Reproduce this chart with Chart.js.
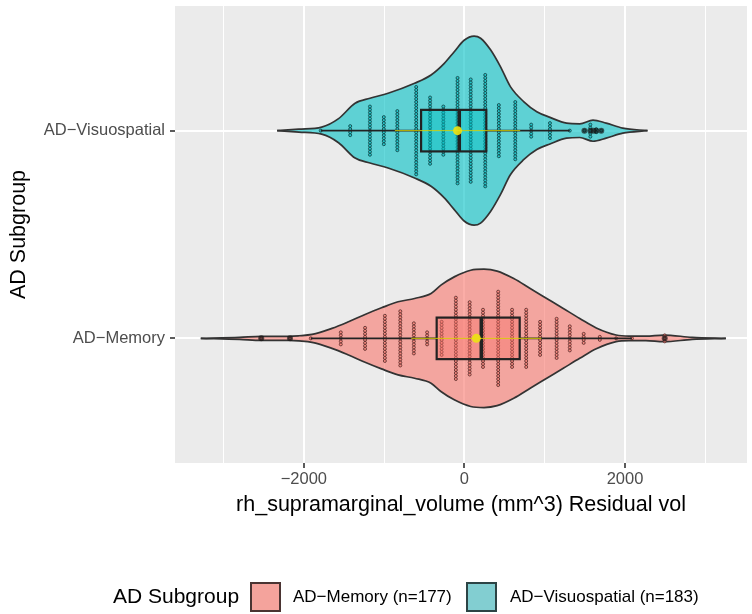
<!DOCTYPE html>
<html>
<head>
<meta charset="utf-8">
<script src="https://cdn.jsdelivr.net/npm/chart.js@4/dist/chart.umd.min.js"></script>
<style>
  html, body { margin: 0; padding: 0; background: #ffffff; }
  canvas { display: block; }
</style>
</head>
<body>
<canvas id="c" width="752" height="614"></canvas>
<script>
// ---- labels -------------------------------------------------------------
const groupLabels = ['AD−Memory', 'AD−Visuospatial'];
const groupCounts = [177, 183];
const legendTitle = 'AD Subgroup';
const xAxisTitle = 'rh_supramarginal_volume (mm^3) Residual vol';
const yAxisTitle = 'AD Subgroup';
const xGridValues = [-3000, -2000, -1000, 0, 1000, 2000, 3000];
const xLabelValues = [-2000, 0, 2000];

// ---- violin outlines: residual value and half-width (in group units) ----
const memViolinX = [-3284, -2802, -2531, -2185, -2062, -1898, -1651, -1444, -1238, -1033, -827, -621, -416, -293, -127, 78, 243, 407, 614, 819, 1025, 1231, 1436, 1642, 1889, 2049, 2259, 2481, 2836, 3256];
const memViolinW = [0, 0.005, 0.01, 0.01, 0.0125, 0.019, 0.048, 0.08, 0.115, 0.147, 0.176, 0.192, 0.216, 0.256, 0.296, 0.328, 0.333, 0.324, 0.288, 0.24, 0.192, 0.144, 0.096, 0.05, 0.016, 0.011, 0.011, 0.016, 0.005, 0];
const visViolinX = [-2333, -2062, -1778, -1568, -1362, -1177, -951, -621, -416, -251, -127, -4, 120, 201, 325, 448, 572, 737, 901, 1065, 1272, 1436, 1601, 1765, 1972, 2280];
const visViolinW = [0, 0.007, 0.017, 0.058, 0.132, 0.156, 0.18, 0.228, 0.268, 0.324, 0.38, 0.435, 0.455, 0.445, 0.389, 0.308, 0.212, 0.14, 0.091, 0.064, 0.036, 0.033, 0.051, 0.036, 0.012, 0];

// ---- dot stacks: bin centre and number of dots ---------------------------
const memDotBins = [-2531, -2173, -1914, -1540, -1238, -991, -799, -630, -465, -284, -107, 65, 231, 420, 593, 769, 942, 1148, 1312, 1485, 1686, 1889, 2086, 2494];
const memDotCounts = [1, 1, 1, 5, 8, 16, 19, 11, 5, 12, 28, 25, 20, 32, 20, 20, 12, 14, 9, 4, 2, 1, 1, 3];
const visDotBins = [-1790, -1423, -1177, -1004, -836, -601, -428, -263, -86, 78, 259, 428, 633, 831, 1065, 1312, 1494, 1568, 1642, 1704];
const visDotCounts = [1, 4, 17, 10, 14, 30, 23, 17, 36, 35, 38, 18, 20, 5, 6, 1, 1, 5, 2, 1];

// ---- box plot summaries (Memory, Visuospatial) ---------------------------
const boxQ1 = [-346, -540];
const boxMedian = [210, -65];
const boxQ3 = [688, 272];
const whiskerLow = [-1914, -1790];
const whiskerHigh = [2086, 1312];
const memOutliers = [-2531, -2173, 2494];
const visOutliers = [1494, 1568, 1610, 1642, 1704];

// ---- mean and standard deviation -----------------------------------------
const meanValues = [148, -86];
const sdValues = [810, 780];

// ---- styling -------------------------------------------------------------
const FONT = '"Liberation Sans", Arial, Helvetica, sans-serif';
const fillColors = ['rgba(248,118,109,0.6)', 'rgba(0,191,196,0.6)'];
const boxFills = ['rgba(248,118,109,0.45)', 'rgba(0,191,196,0.45)'];
const dotBorders = ['rgba(85,42,40,0.8)', 'rgba(18,68,70,0.85)'];
const keyColors = ['#F4A39C', '#82CED1'];
const keyBorders = ['#4a3432', '#2c4445'];
const STACK_STEP = 0.0145;   // vertical dot spacing, group units
const BOX_HALF = 0.1;        // half height of the box, group units

function violinSets(g, xs, ws) {
  const c = g + 1;
  const upper = xs.map((x, i) => ({ x, y: c + ws[i] }));
  const lower = xs.map((x, i) => ({ x, y: c - ws[i] }));
  const common = {
    type: 'line', borderColor: '#333333', borderWidth: 1.7, pointRadius: 0,
    pointHitRadius: 0, cubicInterpolationMode: 'monotone'
  };
  return [
    Object.assign({}, common, { data: upper, fill: false, order: 9 }),
    Object.assign({}, common, { data: lower, fill: '-1', backgroundColor: fillColors[g], order: 10 })
  ];
}

function dotSet(g, bins, counts) {
  const pts = [];
  bins.forEach((b, i) => {
    const n = counts[i];
    for (let k = 0; k < n; k++) {
      pts.push({ x: b, y: g + 1 + (k - (n - 1) / 2) * STACK_STEP });
    }
  });
  return {
    type: 'scatter', data: pts, pointRadius: 1.5, pointBorderWidth: 1,
    pointBackgroundColor: fillColors[g], pointBorderColor: dotBorders[g],
    order: 8, boxGroup: g
  };
}

function outlierSet(g, vals) {
  return {
    type: 'scatter', data: vals.map(v => ({ x: v, y: g + 1 })), pointRadius: 3,
    pointBorderWidth: 0, pointBackgroundColor: 'rgba(20,20,20,0.65)', order: 3
  };
}

function sdSet(g) {
  return {
    type: 'line', data: [{ x: meanValues[g] - sdValues[g], y: g + 1 }, { x: meanValues[g] + sdValues[g], y: g + 1 }],
    borderColor: 'rgba(214,206,0,0.9)', borderWidth: 1, pointRadius: 0, fill: false, order: 2
  };
}

function meanSet() {
  return {
    type: 'scatter', data: meanValues.map((v, g) => ({ x: v, y: g + 1 })), pointRadius: 4.5,
    pointBorderWidth: 0, pointBackgroundColor: 'rgba(236,226,20,0.92)', order: 1
  };
}

const datasets = [
  ...violinSets(0, memViolinX, memViolinW),
  ...violinSets(1, visViolinX, visViolinW),
  dotSet(0, memDotBins, memDotCounts),
  dotSet(1, visDotBins, visDotCounts),
  outlierSet(0, memOutliers),
  outlierSet(1, visOutliers),
  sdSet(0),
  sdSet(1),
  meanSet()
];

// grey panel behind the grid
const panelPlugin = {
  id: 'panel',
  beforeDraw(chart) {
    const { ctx, chartArea: a } = chart;
    ctx.save();
    ctx.fillStyle = '#ffffff';
    ctx.fillRect(0, 0, chart.width, chart.height);
    ctx.fillStyle = '#EBEBEB';
    ctx.fillRect(a.left, a.top, a.right - a.left, a.bottom - a.top);
    ctx.restore();
  }
};

// box, whiskers and median drawn right after each group's dots
const boxPlugin = {
  id: 'boxes',
  afterDatasetDraw(chart, args) {
    const ds = chart.data.datasets[args.index];
    if (ds.boxGroup === undefined) return;
    const g = ds.boxGroup;
    const xs = chart.scales.x, ys = chart.scales.y, ctx = chart.ctx, a = chart.chartArea;
    const c = g + 1;
    const yc = ys.getPixelForValue(c);
    const yt = ys.getPixelForValue(c + BOX_HALF);
    const yb = ys.getPixelForValue(c - BOX_HALF);
    const q1 = xs.getPixelForValue(boxQ1[g]);
    const q3 = xs.getPixelForValue(boxQ3[g]);
    const md = xs.getPixelForValue(boxMedian[g]);
    ctx.save();
    ctx.beginPath();
    ctx.rect(a.left, a.top, a.right - a.left, a.bottom - a.top);
    ctx.clip();
    ctx.strokeStyle = '#222222';
    ctx.lineWidth = 1.8;
    ctx.beginPath();
    ctx.moveTo(xs.getPixelForValue(whiskerLow[g]), yc);
    ctx.lineTo(q1, yc);
    ctx.moveTo(q3, yc);
    ctx.lineTo(xs.getPixelForValue(whiskerHigh[g]), yc);
    ctx.stroke();
    ctx.fillStyle = boxFills[g];
    ctx.fillRect(q1, yt, q3 - q1, yb - yt);
    ctx.lineWidth = 2.2;
    ctx.strokeRect(q1, yt, q3 - q1, yb - yt);
    ctx.lineWidth = 3.6;
    ctx.beginPath();
    ctx.moveTo(md, yt);
    ctx.lineTo(md, yb);
    ctx.stroke();
    ctx.restore();
  }
};

// axis titles and the bottom legend
const textPlugin = {
  id: 'texts',
  afterDraw(chart) {
    const { ctx, chartArea: a } = chart;
    ctx.save();
    ctx.fillStyle = '#000000';
    ctx.font = '21.5px ' + FONT;
    ctx.textBaseline = 'middle';
    ctx.textAlign = 'center';
    ctx.fillText(xAxisTitle, (a.left + a.right) / 2, 505);
    ctx.save();
    ctx.translate(19, (a.top + a.bottom) / 2);
    ctx.rotate(-Math.PI / 2);
    ctx.fillText(yAxisTitle, 0, 0);
    ctx.restore();

    const ly = 597;
    ctx.font = '21px ' + FONT;
    ctx.textAlign = 'left';
    ctx.fillText(legendTitle, 113, ly);
    const keyX = [250, 466];
    const textX = [293, 510];
    for (let g = 0; g < 2; g++) {
      ctx.fillStyle = keyColors[g];
      ctx.fillRect(keyX[g], ly - 15, 31, 30);
      ctx.strokeStyle = keyBorders[g];
      ctx.lineWidth = 2;
      ctx.strokeRect(keyX[g] + 1, ly - 14, 29, 28);
      ctx.fillStyle = '#000000';
      ctx.font = '17px ' + FONT;
      ctx.fillText(groupLabels[g] + ' (n=' + groupCounts[g] + ')', textX[g], ly);
    }
    ctx.restore();
  }
};

const isMajor = v => xLabelValues.includes(v);
const noEdgePadding = scale => {
  scale.paddingTop = 0; scale.paddingBottom = 0;
  scale.paddingLeft = 0; scale.paddingRight = 0;
};

new Chart(document.getElementById('c'), {
  type: 'line',
  data: { datasets },
  options: {
    responsive: false,
    devicePixelRatio: 1,
    animation: false,
    events: [],
    layout: { padding: { top: 6, right: 0, bottom: 0, left: 0 } },
    plugins: { legend: { display: false }, tooltip: { enabled: false } },
    scales: {
      x: {
        type: 'linear',
        min: -3605,
        max: 3519,
        afterBuildTicks: axis => { axis.ticks = xGridValues.map(v => ({ value: v })); },
        afterFit: scale => { scale.height = 151; noEdgePadding(scale); },
        border: { display: false },
        grid: {
          color: '#ffffff',
          lineWidth: ctx => (ctx.tick && isMajor(ctx.tick.value)) ? 2 : 1,
          drawTicks: true,
          tickLength: 5,
          tickWidth: 1.6,
          tickColor: ctx => (ctx.tick && isMajor(ctx.tick.value)) ? '#333333' : 'rgba(0,0,0,0)'
        },
        ticks: {
          autoSkip: false,
          maxRotation: 0,
          padding: 2,
          color: '#4D4D4D',
          font: { family: FONT, size: 16.5 },
          callback: v => isMajor(v) ? (v < 0 ? '−' + Math.abs(v) : String(v)) : ''
        }
      },
      y: {
        type: 'linear',
        min: 0.4,
        max: 2.6,
        afterBuildTicks: axis => { axis.ticks = [1, 2].map(v => ({ value: v })); },
        afterFit: scale => { scale.width = 175; noEdgePadding(scale); },
        border: { display: false },
        grid: { color: '#ffffff', lineWidth: 2, drawTicks: true, tickLength: 5, tickWidth: 1.6, tickColor: '#333333' },
        ticks: {
          padding: 5,
          color: '#4D4D4D',
          font: { family: FONT, size: 16.5 },
          callback: v => groupLabels[v - 1]
        }
      }
    }
  },
  plugins: [panelPlugin, boxPlugin, textPlugin]
});
</script>
</body>
</html>
